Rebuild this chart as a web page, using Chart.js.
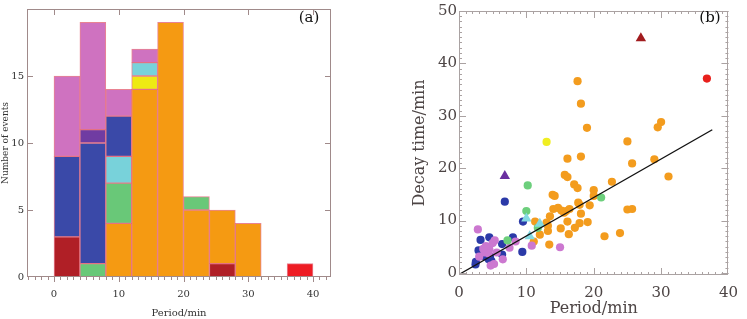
<!DOCTYPE html>
<html lang="en">
<head>
<meta charset="UTF-8">
<title>Period histogram and decay time</title>
<script src="https://cdn.jsdelivr.net/npm/chart.js"></script>
<style>
    body { margin: 0; background: #fff; }
    .wrap { position: relative; width: 747px; height: 319px; }
    #histChart { position: absolute; left: 0; top: 0; }
    #scatChart { position: absolute; left: 370px; top: 0; }
</style>
</head>
<body>
<div class="wrap">
    <canvas id="histChart" width="370" height="319"></canvas>
    <canvas id="scatChart" width="377" height="319"></canvas>
</div>
<script>
// ---- (a) histogram, 4-min bins, stacked by class ----
const binCentres = [2, 6, 10, 14, 18, 22, 26, 30, 34, 38];
const histDarkRed = [3, null, null, null, null, null, 1, null, null, null];
const histRed     = [null, null, null, null, null, null, null, null, null, 1];
const histOrange  = [null, null, 4, 14, 19, 5, 4, 4, null, null];
const histGreen   = [null, 1, 3, null, null, 1, null, null, null, null];
const histYellow  = [null, null, null, 1, null, null, null, null, null, null];
const histCyan    = [null, null, 2, 1, null, null, null, null, null, null];
const histBlue    = [6, 9, 3, null, null, null, null, null, null, null];
const histPurple  = [null, 1, null, null, null, null, null, null, null, null];
const histPink    = [6, 8, 2, 1, null, null, null, null, null, null];
const histXTicks = [0, 10, 20, 30, 40];
const histYTicks = [0, 5, 10, 15];

// ---- (b) decay time vs period ----
const orangeP = [17.6, 18.1, 19.0, 29.5, 30.0, 25.0, 16.1, 18.1, 25.7, 29.0, 31.1, 15.7, 16.1, 17.1, 17.6, 22.7, 20.0, 20.0, 13.9, 14.2,
                 17.7, 17.9, 19.4, 14.0, 14.7, 15.2, 15.9, 15.6, 16.4, 18.1, 25.0, 25.7, 13.5, 11.3, 13.0, 13.2, 13.2, 16.1, 17.9, 19.1,
                 17.2, 15.1, 16.3, 12.0, 13.4, 21.6, 23.9, 11.1];
const orangeD = [36.6, 32.3, 27.7, 27.8, 28.8, 25.1, 21.8, 22.2, 20.9, 21.7, 18.4, 18.7, 18.3, 16.9, 16.2, 17.4, 15.8, 14.7, 14.9, 14.7,
                 13.4, 13.0, 12.9, 12.2, 12.4, 11.9, 11.8, 11.5, 12.2, 11.3, 12.1, 12.2, 10.8, 9.8, 9.6, 9.0, 8.0, 9.8, 9.5, 9.7,
                 8.6, 8.5, 7.4, 7.3, 5.4, 7.0, 7.6, 6.0];
const blueP = [6.8, 9.5, 3.2, 4.5, 8.0, 6.4, 9.4, 2.9, 2.5, 2.45, 4.3, 4.6, 4.8, 3.8, 6.4, 4.4];
const blueD = [13.6, 9.8, 6.3, 6.8, 6.8, 5.5, 4.0, 4.3, 2.1, 1.6, 3.6, 3.1, 2.3, 3.2, 3.5, 2.6];
const pinkP = [2.8, 4.0, 4.5, 3.8, 4.4, 5.0, 5.3, 5.6, 6.5, 5.2, 4.7, 3.0, 7.5, 8.4, 10.8, 15.0, 3.6];
const pinkD = [8.3, 5.1, 4.5, 3.9, 3.7, 5.7, 6.2, 3.9, 2.6, 1.7, 1.4, 3.1, 4.8, 6.0, 5.2, 4.9, 4.6];
const greenP = [7.2, 10.2, 10.0, 11.7, 21.1];
const greenD = [6.2, 16.7, 11.8, 8.6, 14.4];
const yellowP = [13.0];
const yellowD = [25.0];
const redP = [36.8];
const redD = [37.1];
const cyanTriP = [10.0, 10.5, 12.0];
const cyanTriD = [10.4, 7.0, 9.4];
const purpleTriP = [6.8];
const purpleTriD = [18.5];
const darkRedTriP = [27.0];
const darkRedTriD = [44.8];
// fitted line
const fitSlope = 0.735;
const fitIntercept = -0.3;
const fitRange = [0, 37.6];
const scatTicks = [0, 10, 20, 30, 40, 50];

const serif = "'DejaVu Serif', serif";

function pts(xs, ys) {
    return xs.map((x, i) => ({ x: x, y: ys[i] }));
}

function range(a, b, step) {
    const out = [];
    for (let v = a; v <= b + 1e-9; v += step) out.push(v);
    return out;
}

// box round the plot with inward / outward ticks
const frameTicks = {
    id: 'frameTicks',
    afterDatasetsDraw(chart, args, o) {
        const { ctx, chartArea: a, scales: { x, y } } = chart;
        ctx.save();
        ctx.strokeStyle = o.color;
        ctx.lineWidth = 1;
        ctx.strokeRect(Math.round(a.left) + 0.5, Math.round(a.top) + 0.5,
            Math.round(a.right - a.left) - 1, Math.round(a.bottom - a.top) - 1);
        ctx.beginPath();
        const side = (s, vals, len) => {
            vals.forEach(v => {
                if (s === 'bottom' || s === 'top') {
                    const px = Math.round(x.getPixelForValue(v)) + 0.5;
                    if (px < a.left || px > a.right) return;
                    const y0 = s === 'bottom' ? a.bottom : a.top;
                    ctx.moveTo(px, y0);
                    ctx.lineTo(px, y0 + (s === 'bottom' ? -len : len));
                } else {
                    const py = Math.round(y.getPixelForValue(v)) + 0.5;
                    if (py < a.top || py > a.bottom) return;
                    const x0 = s === 'left' ? a.left : a.right;
                    ctx.moveTo(x0, py);
                    ctx.lineTo(x0 + (s === 'left' ? len : -len), py);
                }
            });
        };
        o.ticks.forEach(t => side(t.side, t.values, t.len));
        ctx.stroke();
        ctx.fillStyle = '#111';
        ctx.font = o.labelFont;
        ctx.textAlign = 'center';
        ctx.textBaseline = 'middle';
        ctx.fillText(o.label, o.labelX, o.labelY);
        ctx.restore();
    }
};

function fixTicks(list) {
    return scale => { scale.ticks = list.map(v => ({ value: v })); };
}

// ---------- chart (a) ----------
const histSets = [
    ['#b01f26', histDarkRed], ['#ee1c24', histRed], ['#f59a12', histOrange],
    ['#69c878', histGreen], ['#eeea12', histYellow], ['#78d2da', histCyan],
    ['#3a49a8', histBlue], ['#703ca2', histPurple], ['#cf72c0', histPink]
].map(([c, vals]) => ({
    data: pts(binCentres, vals),
    backgroundColor: c,
    borderColor: 'rgba(225, 90, 110, 0.75)',
    borderWidth: 1,
    borderSkipped: false,
    barPercentage: 1,
    categoryPercentage: 1
}));

new Chart(document.getElementById('histChart'), {
    type: 'bar',
    data: { datasets: histSets },
    options: {
        responsive: false,
        animation: false,
        devicePixelRatio: 1,
        layout: { autoPadding: false, padding: { left: 0, right: 39, top: 1, bottom: 0 } },
        plugins: {
            legend: { display: false },
            tooltip: { enabled: false },
            frameTicks: {
                color: '#a08a8a',
                label: '(a)', labelX: 309, labelY: 18, labelFont: '15px ' + serif,
                ticks: [
                    { side: 'left', values: histYTicks, len: 6 },
                    { side: 'right', values: histYTicks, len: 6 },
                    { side: 'top', values: histXTicks, len: 6 },
                    { side: 'bottom', values: range(-4, 42, 1), len: -3 },
                    { side: 'bottom', values: histXTicks, len: -5 }
                ]
            }
        },
        scales: {
            x: {
                type: 'linear',
                stacked: true,
                offset: false,
                min: -4.17, max: 42.78,
                grid: { display: false, drawTicks: false, offset: false },
                border: { display: false },
                afterBuildTicks: fixTicks(histXTicks),
                afterFit: s => { s.height = 42; },
                ticks: { color: '#333', font: { family: serif, size: 10 }, padding: 11, maxRotation: 0 },
                title: { display: true, text: 'Period/min', color: '#333', font: { family: serif, size: 10 }, padding: { top: 0, bottom: 0 } }
            },
            y: {
                stacked: true,
                min: 0, max: 20,
                grid: { display: false, drawTicks: false },
                border: { display: false },
                afterBuildTicks: fixTicks(histYTicks),
                afterFit: s => { s.width = 27; },
                ticks: { color: '#333', font: { family: serif, size: 10 }, padding: 3 },
                title: { display: true, text: 'Number of events', color: '#333', font: { family: serif, size: 9 }, padding: { top: 0, bottom: 0 } }
            }
        }
    },
    plugins: [frameTicks]
});

// ---------- chart (b) ----------
function scat(xs, ys, color, shape, r) {
    return {
        type: 'scatter',
        data: pts(xs, ys),
        backgroundColor: color,
        borderColor: color,
        borderWidth: 0,
        pointStyle: shape,
        pointRadius: r
    };
}

new Chart(document.getElementById('scatChart'), {
    type: 'scatter',
    data: {
        datasets: [
            {
                type: 'line',
                data: fitRange.map(x => ({ x: x, y: fitSlope * x + fitIntercept })),
                borderColor: '#111',
                borderWidth: 1.3,
                pointRadius: 0,
                fill: false
            },
            scat(darkRedTriP, darkRedTriD, '#a11b1e', 'triangle', 6),
            scat(purpleTriP, purpleTriD, '#6a2fa0', 'triangle', 6),
            scat(cyanTriP, cyanTriD, '#84dae2', 'triangle', 6),
            scat(redP, redD, '#e8201c', 'circle', 4.1),
            scat(yellowP, yellowD, '#f0ee22', 'circle', 4.1),
            scat(greenP, greenD, '#6ccf7c', 'circle', 4.1),
            scat(pinkP, pinkD, '#cc78d0', 'circle', 4.1),
            scat(blueP, blueD, '#2b3aa8', 'circle', 4.1),
            scat(orangeP, orangeD, '#f39c1e', 'circle', 4.1)
        ]
    },
    options: {
        responsive: false,
        animation: false,
        devicePixelRatio: 1,
        layout: { autoPadding: false, padding: { left: 0, right: 15, top: 3, bottom: 0 } },
        plugins: {
            legend: { display: false },
            tooltip: { enabled: false },
            frameTicks: {
                color: '#aaa2a2',
                label: '(b)', labelX: 340, labelY: 18, labelFont: '15px ' + serif,
                ticks: [
                    { side: 'left', values: range(0, 50, 1), len: 3 },
                    { side: 'right', values: range(0, 50, 1), len: 3 },
                    { side: 'left', values: scatTicks, len: 7 },
                    { side: 'right', values: scatTicks, len: 7 },
                    { side: 'bottom', values: range(0, 40, 1), len: 3 },
                    { side: 'top', values: range(0, 40, 1), len: 3 },
                    { side: 'bottom', values: scatTicks, len: 7 },
                    { side: 'top', values: scatTicks, len: 7 }
                ]
            }
        },
        scales: {
            x: {
                type: 'linear',
                min: 0, max: 40,
                grid: { display: false, drawTicks: false },
                border: { display: false },
                afterBuildTicks: fixTicks([0, 10, 20, 30, 40]),
                afterFit: s => { s.height = 44; },
                ticks: { color: '#4d4545', font: { family: serif, size: 15 }, padding: 9, maxRotation: 0 },
                title: { display: true, text: 'Period/min', color: '#4d4545', font: { family: serif, size: 16 }, padding: { top: 0, bottom: 1 } }
            },
            y: {
                min: -0.4, max: 50,
                grid: { display: false, drawTicks: false },
                border: { display: false },
                afterBuildTicks: fixTicks(scatTicks),
                afterFit: s => { s.width = 89; },
                ticks: { color: '#4d4545', font: { family: serif, size: 15 }, padding: 2 },
                title: { display: true, text: 'Decay time/min', color: '#4d4545', font: { family: serif, size: 16 }, padding: { top: 40, bottom: 0 } }
            }
        }
    },
    plugins: [frameTicks]
});
</script>
</body>
</html>
